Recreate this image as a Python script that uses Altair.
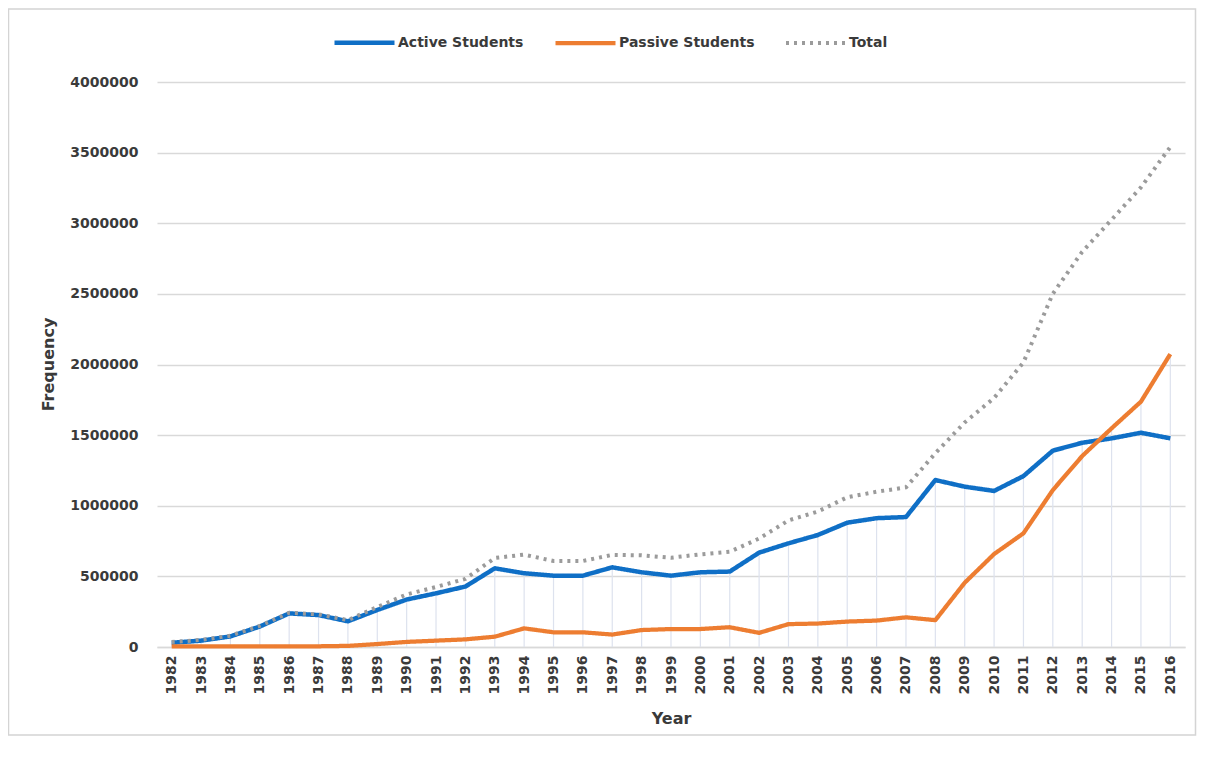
import altair as alt
import pandas as pd

years = ["1982", "1983", "1984", "1985", "1986", "1987", "1988", "1989", "1990", "1991",
         "1992", "1993", "1994", "1995", "1996", "1997", "1998", "1999", "2000", "2001",
         "2002", "2003", "2004", "2005", "2006", "2007", "2008", "2009", "2010", "2011",
         "2012", "2013", "2014", "2015", "2016"]

active = [30000, 45000, 75000, 145000, 238000, 226000, 182000, 262000, 336000, 380000,
          428000, 557000, 522000, 505000, 505000, 564000, 529000, 505000, 529000, 534000,
          668000, 734000, 793000, 880000, 912000, 920000, 1182000, 1135000, 1105000, 1210000,
          1390000, 1446000, 1477000, 1517000, 1477000]

passive = [5000, 5000, 5000, 4000, 4000, 5000, 8000, 21000, 36000, 45000,
           54000, 73000, 132000, 104000, 104000, 88000, 120000, 127000, 127000, 140000,
           100000, 162000, 166000, 180000, 187000, 210000, 190000, 455000, 658000, 805000,
           1111000, 1352000, 1548000, 1737000, 2074000]

total = [35000, 50000, 80000, 149000, 242000, 231000, 190000, 283000, 372000, 425000,
         482000, 630000, 654000, 609000, 609000, 652000, 649000, 632000, 656000, 674000,
         768000, 896000, 959000, 1060000, 1099000, 1130000, 1372000, 1590000, 1763000, 2015000,
         2501000, 2798000, 3025000, 3254000, 3540000]

series_names = ["Active Students", "Passive Students", "Total"]
series_colors = ["#0F6FC6", "#ED7D31", "#9B9B9B"]
series_dash = [[1, 0], [1, 0], [3, 5]]
series_width = [4.5, 4, 3.5]
y_ticks = [0, 500000, 1000000, 1500000, 2000000, 2500000, 3000000, 3500000, 4000000]

rows = []
for name, vals in zip(series_names, [active, passive, total]):
    for yr, v in zip(years, vals):
        rows.append({"Year": yr, "Series": name, "Value": v})
long_df = pd.DataFrame(rows)
wide_df = pd.DataFrame({"Year": years, "Active": active, "Passive": passive})

FONT = "DejaVu Sans"
TXT = "#3a3a3a"

x_axis = alt.Axis(title="Year", labelAngle=-90, labelFont=FONT, labelFontWeight="bold",
                  labelFontSize=14, labelColor=TXT, labelPadding=8, ticks=False,
                  domainColor="#d9d9d9", domainWidth=1.5, grid=False,
                  titleFont=FONT, titleFontSize=16, titleFontWeight="bold", titleColor=TXT,
                  titleY=71, titleBaseline="middle")
y_axis = alt.Axis(title="Frequency", values=y_ticks, format="d", labelFont=FONT,
                  labelFontWeight="bold", labelFontSize=14, labelColor=TXT, labelPadding=19,
                  ticks=False, domain=False, gridColor="#d9d9d9", gridWidth=1.3,
                  titleFont=FONT, titleFontSize=16, titleFontWeight="bold", titleColor=TXT,
                  titleX=-109, titleY=282, titleAngle=270, titleAlign="center",
                  titleBaseline="middle")

x_scale = alt.Scale(type="point", padding=0.5)
y_scale = alt.Scale(domain=[0, 4000000], nice=False)

legend = alt.Legend(orient="none", legendX=175, legendY=-72, direction="horizontal",
                    title=None, symbolType="stroke", symbolSize=3600, symbolStrokeWidth=4,
                    labelFont=FONT, labelFontWeight="bold", labelFontSize=14, labelColor=TXT,
                    columnPadding=23, labelOffset=1, padding=0)

rules = alt.Chart(wide_df).transform_calculate(
    Top="max(datum.Active, datum.Passive)", Zero="0"
).mark_rule(color="#dde2ee", strokeWidth=1.2).encode(
    x=alt.X("Year:O", sort=years, scale=x_scale, axis=x_axis),
    y=alt.Y("Top:Q", scale=y_scale, axis=y_axis),
    y2="Zero:Q",
)

lines = alt.Chart(long_df).mark_line(strokeJoin="round").encode(
    x=alt.X("Year:O", sort=years, scale=x_scale, axis=x_axis),
    y=alt.Y("Value:Q", scale=y_scale, axis=y_axis),
    color=alt.Color("Series:N", scale=alt.Scale(domain=series_names, range=series_colors),
                    legend=legend),
    strokeDash=alt.StrokeDash("Series:N", scale=alt.Scale(domain=series_names, range=series_dash),
                              legend=legend),
    strokeWidth=alt.StrokeWidth("Series:N", scale=alt.Scale(domain=series_names, range=series_width),
                                legend=None),
    detail="Series:N",
)

border = alt.Chart(alt.Data(values=[{"a": 1}])).mark_rect(
    fillOpacity=0, stroke="#d4d4d4", strokeWidth=1.5
).encode(
    x=alt.value(-148.5), x2=alt.value(1038.5), y=alt.value(-73), y2=alt.value(653)
)

chart = alt.layer(border, rules, lines).properties(
    width=1028, height=565,
    autosize=alt.AutoSizeParams(type="none"),
    padding={"left": 149, "top": 74, "right": 12, "bottom": 90},
    background="white",
).configure_view(stroke=None)

chart.save("out.html", embed_options={"renderer": "svg", "actions": False})
